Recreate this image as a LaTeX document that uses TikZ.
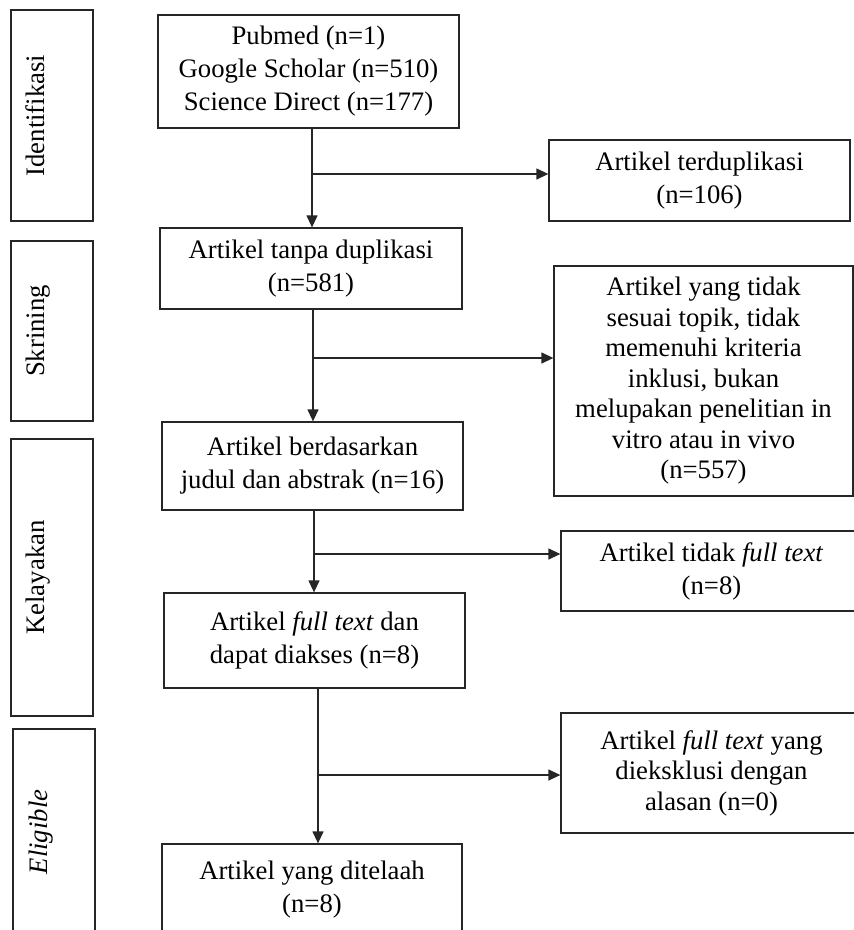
\documentclass[tikz,border=0pt]{standalone}
\usepackage{fontspec}
\setmainfont{Liberation Serif}
\usetikzlibrary{arrows.meta}
\begin{document}
\begin{tikzpicture}[x=1pt,y=-1pt,
  box/.style={draw=black!85, line width=1.3pt, align=center, inner sep=0pt,
    font=\fontsize{26.7}{33}\selectfont},
  tight/.style={font=\fontsize{26.7}{30.5}\selectfont},
  stage/.style={draw=black!85, line width=1.3pt, inner sep=0pt},
  lbl/.style={rotate=90, anchor=base, inner sep=0pt, font=\fontsize{26.7}{33}\selectfont},
  arr/.style={draw=black!85, line width=1.3pt, -{Triangle[length=12pt,width=11pt]}}]
\path[use as bounding box] (0,0) rectangle (854,930);
\clip (0,0) rectangle (854,930);
\fill[white] (0,0) rectangle (854,930);

% stage boxes
\node[stage, minimum width=82pt, minimum height=211pt] (s1) at (52,115.5) {};
\node[stage, minimum width=82pt, minimum height=180pt] (s2) at (52,331) {};
\node[stage, minimum width=82pt, minimum height=277pt] (s3) at (52,577.5) {};
\node[stage, minimum width=82pt, minimum height=206pt] (s4) at (54,832) {};
\node[lbl] (l1) at (45,115.5) {Identifikasi};
\node[lbl] (l2) at (45,331) {Skrining};
\node[lbl] (l3) at (45,577.5) {Kelayakan};
\node[lbl] (l4) at (47,832) {\textit{Eligible}};

% main boxes
\node[box, minimum width=301pt, minimum height=113pt] (A) at (308.5,71.5)
  {Pubmed (n=1)\\Google Scholar (n=510)\\Science Direct (n=177)};
\node[box, minimum width=301pt, minimum height=81pt] (B) at (699.5,180.5)
  {Artikel terduplikasi\\(n=106)};
\node[box, minimum width=302pt, minimum height=81pt] (C) at (311,268.5)
  {Artikel tanpa duplikasi\\(n=581)};
\node[box, tight, minimum width=299pt, minimum height=230pt] (D) at (703.5,381)
  {Artikel yang tidak\\sesuai topik, tidak\\memenuhi kriteria\\inklusi, bukan\\melupakan penelitian in\\vitro atau in vivo\\(n=557)};
\node[box, minimum width=301pt, minimum height=88pt] (E) at (312.5,466)
  {Artikel berdasarkan\\judul dan abstrak (n=16)};
\node[box, minimum width=301pt, minimum height=80pt] (F) at (711.5,571)
  {Artikel tidak \textit{full text}\\(n=8)};
\node[box, minimum width=301pt, minimum height=95pt] (G) at (314.5,640.5)
  {Artikel \textit{full text} dan\\dapat diakses (n=8)};
\node[box, tight, minimum width=301pt, minimum height=120pt] (H) at (711.5,773)
  {Artikel \textit{full text} yang\\dieksklusi dengan\\alasan (n=0)};
\node[box, minimum width=300pt, minimum height=91pt] (I) at (312,889.5)
  {Artikel yang ditelaah\\(n=8)};

% junctions
\coordinate (j1) at (312,174);
\coordinate (j2) at (313,358);
\coordinate (j3) at (314,554);
\coordinate (j4) at (318,775);

\draw[arr] (A.south -| j1) -- (C.north -| j1);
\draw[arr] (j1) -- (j1 -| B.west);
\draw[arr] (C.south -| j2) -- (E.north -| j2);
\draw[arr] (j2) -- (j2 -| D.west);
\draw[arr] (E.south -| j3) -- (G.north -| j3);
\draw[arr] (j3) -- (j3 -| F.west);
\draw[arr] (G.south -| j4) -- (I.north -| j4);
\draw[arr] (j4) -- (j4 -| H.west);
\end{tikzpicture}
\end{document}
